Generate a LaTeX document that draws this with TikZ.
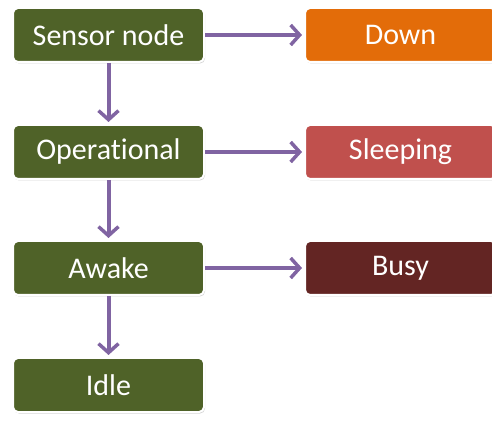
\documentclass[tikz,border=0pt]{standalone}
\usepackage{fontspec}
\setmainfont{Carlito}[Ligatures={NoCommon}]
\usetikzlibrary{arrows.meta,shadows}
\definecolor{boxgreen}{HTML}{4F6228}
\definecolor{boxorange}{HTML}{E36C09}
\definecolor{boxred}{HTML}{C0504D}
\definecolor{boxbrown}{HTML}{632523}
\definecolor{arrowpurple}{HTML}{8064A2}
\tikzset{
  statebox/.style={rectangle, rounded corners=5pt, draw=white, line width=2pt,
    minimum width=191pt, minimum height=54pt, inner sep=0pt,
    text=white, font=\fontsize{30}{33}\selectfont,
    drop shadow={shadow xshift=1pt, shadow yshift=-1.5pt, opacity=0.35, fill=gray}},
  link/.style={draw=arrowpurple, line width=4pt, shorten >=2pt,
    -{Straight Barb[length=9pt,width=20pt,line width=3.5pt]}}
}
\begin{document}
\begin{tikzpicture}[x=1pt,y=1pt]
\useasboundingbox (0,0) rectangle (492,420);
\node[statebox, fill=boxgreen] (sensor) at (108.5,385) {Sensor node};
\node[statebox, fill=boxgreen] (oper) at (108.5,268) {Operational};
\node[statebox, fill=boxgreen] (awake) at (108.5,152) {Awake};
\node[statebox, fill=boxgreen] (idle) at (108.5,35) {Idle};
\node[statebox, fill=boxorange] (down) at (400.5,385) {Down};
\node[statebox, fill=boxred] (sleep) at (400.5,268) {Sleeping};
\node[statebox, fill=boxbrown] (busy) at (400.5,152) {Busy};
\draw[link] (sensor) -- (oper);
\draw[link] (oper) -- (awake);
\draw[link] (awake) -- (idle);
\draw[link] (sensor) -- (down);
\draw[link] (oper) -- (sleep);
\draw[link] (awake) -- (busy);
\end{tikzpicture}
\end{document}
